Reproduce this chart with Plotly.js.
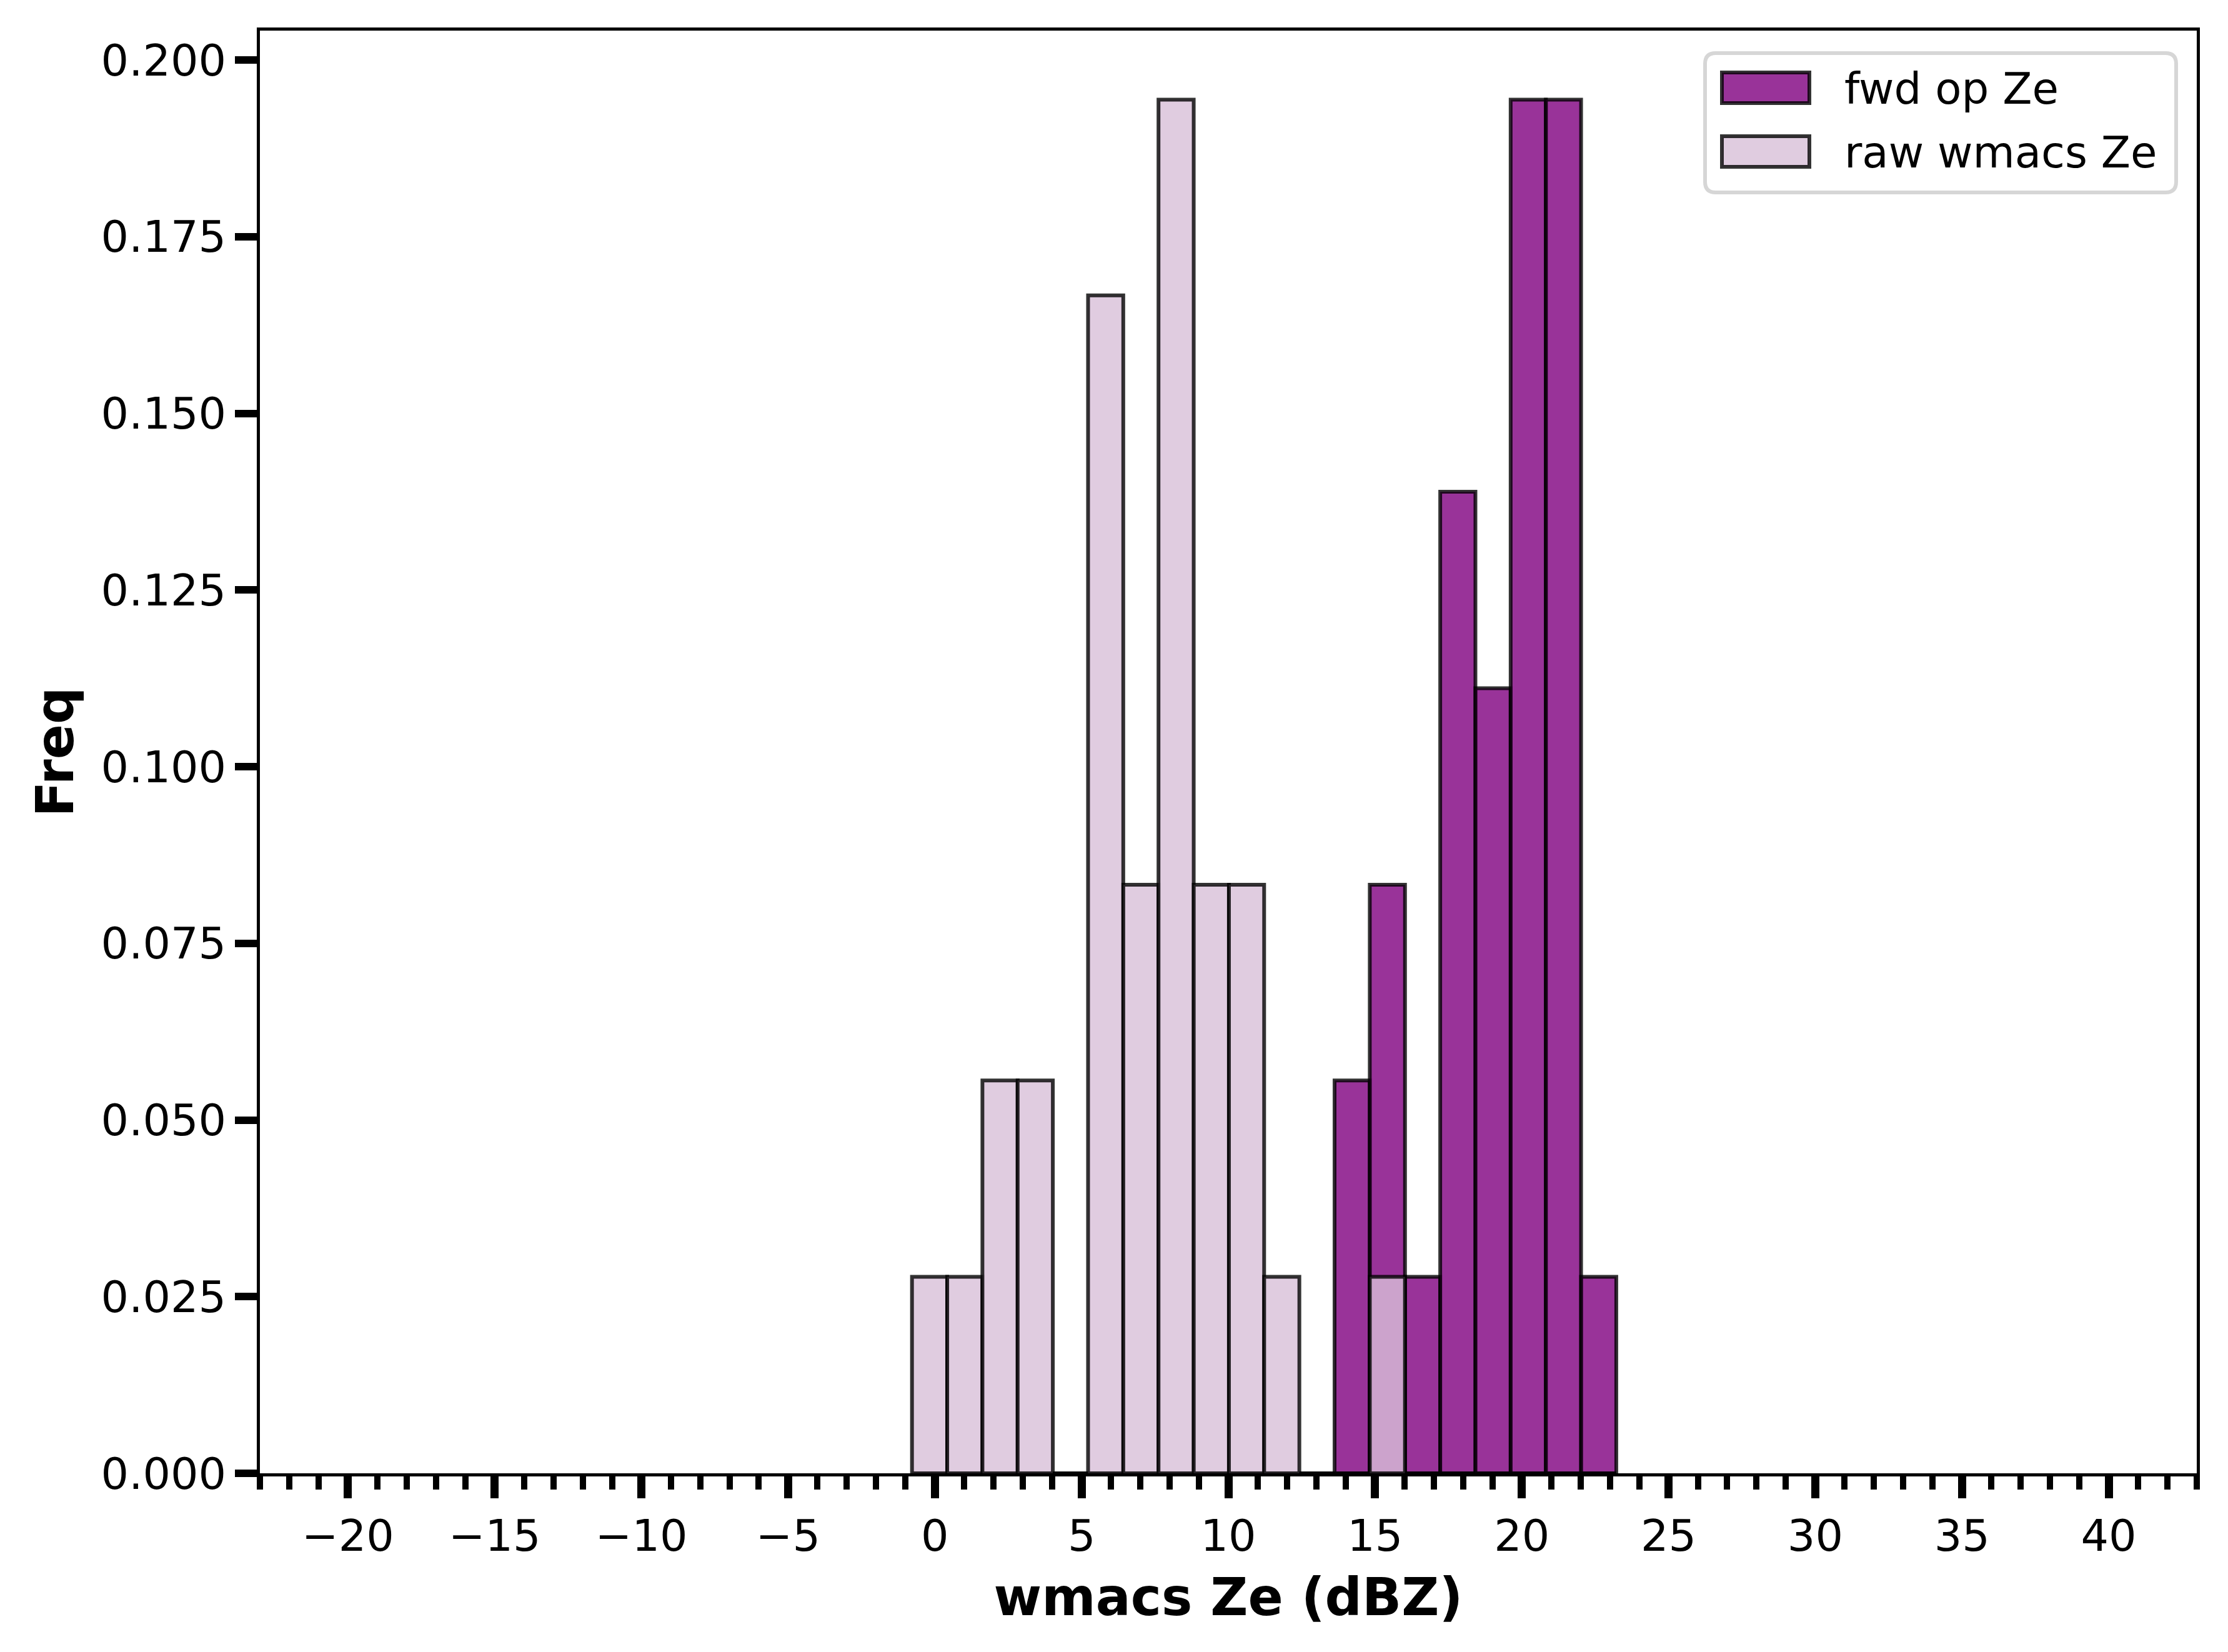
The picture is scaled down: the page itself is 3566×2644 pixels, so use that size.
<!DOCTYPE html>
<html>
<head>
<meta charset="utf-8">
<script src="https://cdn.plot.ly/plotly-3.0.1.min.js"></script>
<style>
  html, body { margin: 0; padding: 0; background: #ffffff; }
  #myPlot { width: 3566px; height: 2644px; }
</style>
</head>
<body>
<div id="myPlot"></div>
<script>
// histogram bins (shared by both series), width 1.2 dBZ
var bin_centers = [-0.18, 1.02, 2.22, 3.42, 4.62, 5.82, 7.02, 8.22, 9.42, 10.62,
                   11.82, 13.02, 14.22, 15.42, 16.62, 17.82, 19.02, 20.22, 21.42, 22.62];
var bin_width = 1.2;

// frequencies
var fwd_freq = [0, 0, 0, 0, 0, 0, 0, 0, 0, 0,
                0, 0, 0.0556, 0.0833, 0.0278, 0.1389, 0.1111, 0.1944, 0.1944, 0.0278];
var raw_freq = [0.0278, 0.0278, 0.0556, 0.0556, 0, 0.1667, 0.0833, 0.1944, 0.0833, 0.0833,
                0.0278, 0, 0, 0.0278, 0, 0, 0, 0, 0, 0];

var names = ['fwd op Ze', 'raw wmacs Ze'];
var fills = ['rgba(128,0,128,0.8)', 'rgba(216,191,216,0.8)'];
var edge = 'rgba(0,0,0,0.8)';

var x_ticks = [-20, -15, -10, -5, 0, 5, 10, 15, 20, 25, 30, 35, 40];
var y_ticks = [0, 0.025, 0.05, 0.075, 0.1, 0.125, 0.15, 0.175, 0.2];

var font_family = 'DejaVu Sans';

// plot area in pixels
var W = 3566, H = 2644;
var mL = 416, mR = 50, mT = 49, mB = 286;
var pw = W - mL - mR, ph = H - mT - mB;
function px(x){ return (x - mL) / pw; }
function py(y){ return (H - mB - y) / ph; }

var results = [fwd_freq, raw_freq];
var traces = [];
for (var i = 0; i < results.length; i++) {
  traces.push({
    type: 'bar',
    x: bin_centers,
    y: results[i],
    width: bin_width,
    name: names[i],
    showlegend: false,
    marker: { color: fills[i], line: { color: edge, width: 6 } }
  });
}

// legend drawn as shapes + text so the swatches match the bar style
var bx0 = 2729, bx1 = 3483, by0 = 85, by1 = 308, r = 17;
var boxPath = 'M' + px(bx0 + r) + ',' + py(by0) +
  ' L' + px(bx1 - r) + ',' + py(by0) +
  ' Q' + px(bx1) + ',' + py(by0) + ' ' + px(bx1) + ',' + py(by0 + r) +
  ' L' + px(bx1) + ',' + py(by1 - r) +
  ' Q' + px(bx1) + ',' + py(by1) + ' ' + px(bx1 - r) + ',' + py(by1) +
  ' L' + px(bx0 + r) + ',' + py(by1) +
  ' Q' + px(bx0) + ',' + py(by1) + ' ' + px(bx0) + ',' + py(by1 - r) +
  ' L' + px(bx0) + ',' + py(by0 + r) +
  ' Q' + px(bx0) + ',' + py(by0) + ' ' + px(bx0 + r) + ',' + py(by0) + ' Z';

var shapes = [{
  type: 'path', xref: 'paper', yref: 'paper', path: boxPath, layer: 'above',
  fillcolor: 'rgba(255,255,255,0.8)', line: { color: '#d6d6d6', width: 6 }
}];
var annotations = [];
var rowY = [140.5, 242.5];
for (var j = 0; j < names.length; j++) {
  shapes.push({
    type: 'rect', xref: 'paper', yref: 'paper', layer: 'above',
    x0: px(2756), x1: px(2896), y0: py(rowY[j] - 24.5), y1: py(rowY[j] + 24.5),
    fillcolor: fills[j], line: { color: edge, width: 6 }
  });
  annotations.push({
    xref: 'paper', yref: 'paper', x: px(2950), y: py(rowY[j] + 2),
    xanchor: 'left', yanchor: 'middle', showarrow: false, text: names[j],
    font: { family: font_family, size: 69, color: '#000000' }
  });
}

var layout = {
  width: W, height: H,
  margin: { l: mL, r: mR, t: mT, b: mB, pad: 0 },
  paper_bgcolor: '#ffffff',
  plot_bgcolor: '#ffffff',
  barmode: 'overlay',
  bargap: 0,
  showlegend: false,
  font: { family: font_family, size: 70, color: '#000000' },
  xaxis: {
    range: [-23, 43],
    tickmode: 'array', tickvals: x_ticks,
    ticks: 'outside', ticklen: 35, tickwidth: 13, tickcolor: '#000000',
    minor: { dtick: 1, tick0: 0, ticks: 'outside', ticklen: 21, tickwidth: 10, tickcolor: '#000000', showgrid: false },
    showline: true, linecolor: '#000000', linewidth: 5, mirror: true,
    showgrid: false, zeroline: false,
    tickfont: { family: font_family, size: 70, color: '#000000' },
    title: {
      text: '<b>wmacs Ze (dBZ)</b>',
      font: { family: font_family, size: 83, color: '#000000' },
      standoff: 30
    }
  },
  yaxis: {
    range: [0, 0.20416],
    tickmode: 'array', tickvals: y_ticks, tickformat: '.3f',
    ticks: 'outside', ticklen: 35, tickwidth: 12, tickcolor: '#000000',
    showline: true, linecolor: '#000000', linewidth: 5, mirror: true,
    showgrid: false, zeroline: false,
    tickfont: { family: font_family, size: 70, color: '#000000' },
    title: {
      text: '<b>Freq</b>',
      font: { family: font_family, size: 83, color: '#000000' },
      standoff: 18
    }
  },
  shapes: shapes,
  annotations: annotations
};

Plotly.newPlot('myPlot', traces, layout, { displayModeBar: false, staticPlot: true });
</script>
</body>
</html>
